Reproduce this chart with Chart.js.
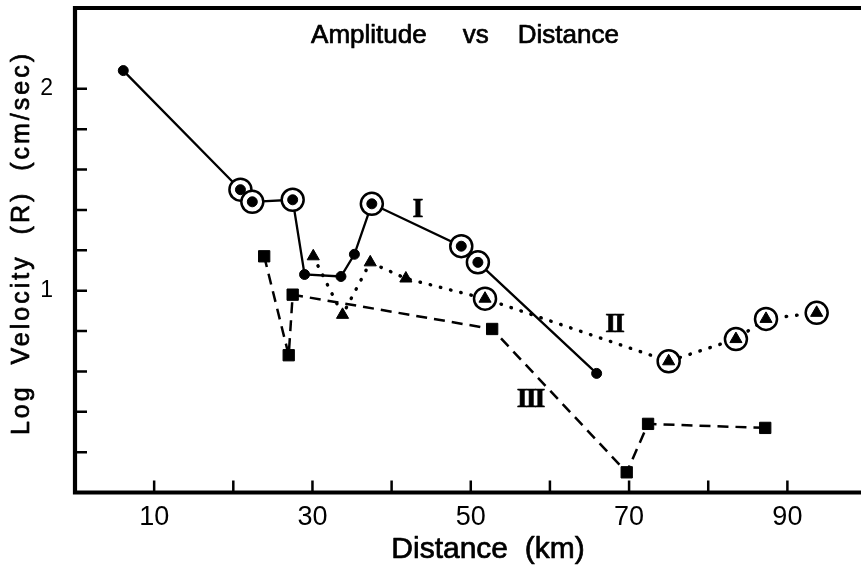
<!DOCTYPE html>
<html>
<head>
<meta charset="utf-8">
<script src="https://cdn.jsdelivr.net/npm/chart.js@4"></script>
<style>
  html, body { margin: 0; padding: 0; background: #fff; overflow: hidden; }
</style>
</head>
<body>
<canvas id="chart" width="861" height="565"></canvas>
<script>
// Curve I: solid line, filled circles (ring = circled station)
const distI = [6.1, 20.9, 22.4, 27.5, 29.0, 33.6, 35.3, 37.5, 48.8, 50.9, 65.9];
const velI = [2.09, 1.50, 1.44, 1.45, 1.08, 1.07, 1.18, 1.43, 1.22, 1.14, 0.59];
const ringI = [false, true, true, true, false, false, false, true, true, true, false];

// Curve II: dotted line, triangles
const distII = [30.1, 33.8, 37.3, 41.8, 51.8, 75.0, 83.5, 87.3, 93.7];
const velII = [1.17, 0.88, 1.14, 1.06, 0.96, 0.65, 0.76, 0.86, 0.89];
const ringII = [false, false, false, false, true, true, true, true, true];

// Curve III: dashed line, squares
const distIII = [23.9, 27.0, 27.5, 52.7, 69.7, 72.4, 87.2];
const velIII = [1.17, 0.68, 0.98, 0.81, 0.10, 0.34, 0.32];

// axes
const xTicks = [10, 20, 30, 40, 50, 60, 70, 80, 90];
const xTickLabels = [10, 30, 50, 70, 90];
const yTicks = [0.2, 0.4, 0.6, 0.8, 1.0, 1.2, 1.4, 1.6, 1.8, 2.0];
const yTickLabels = [1, 2];

// curve labels (data units)
const curveNames = ["I", "II", "III"];
const curveNameX = [43.2, 68.1, 57.5];
const curveNameY = [1.40, 0.83, 0.46];

const SANS = '"Liberation Sans", Arial, sans-serif';
const SERIF = '"Liberation Serif", "Times New Roman", serif';

function pts(xs, ys, keep) {
  return xs.map((x, i) => ({ x: x, y: ys[i] })).filter((p, i) => !keep || keep[i]);
}

function lineSet(xs, ys, dash, width, cap) {
  return {
    data: pts(xs, ys),
    borderColor: "#000",
    borderWidth: width,
    borderDash: dash,
    borderCapStyle: cap,
    pointRadius: 0,
    tension: 0,
    fill: false,
    clip: false,
    order: 3,
  };
}

function ringSet(xs, ys, keep) {
  return {
    data: pts(xs, ys, keep),
    showLine: false,
    pointStyle: "circle",
    pointRadius: 11,
    pointBackgroundColor: "#fff",
    pointBorderColor: "#000",
    pointBorderWidth: 2.5,
    clip: false,
    order: 2,
  };
}

function markSet(xs, ys, style, radius) {
  return {
    data: pts(xs, ys),
    showLine: false,
    pointStyle: style,
    pointRadius: radius,
    pointBackgroundColor: "#000",
    pointBorderColor: "#000",
    pointBorderWidth: 1,
    clip: false,
    order: 1,
  };
}

const near = (v, list) => list.some((t) => Math.abs(t - v) < 1e-6);

// filled text with a thin outline, closer to pen lettering
function letter(ctx, text, x, y, w) {
  ctx.fillText(text, x, y);
  ctx.lineWidth = w;
  ctx.strokeText(text, x, y);
}

// Frame, inward ticks and lettering
const framePlugin = {
  id: "frame",
  beforeDatasetsDraw(chart) {
    const { ctx, chartArea: a, scales } = chart;
    const x = scales.x;
    const y = scales.y;
    ctx.save();
    ctx.strokeStyle = "#000";
    ctx.fillStyle = "#000";

    ctx.lineWidth = 4.2;
    ctx.beginPath();
    ctx.moveTo(a.right, a.top);
    ctx.lineTo(a.left, a.top);
    ctx.lineTo(a.left, a.bottom);
    ctx.lineTo(a.right, a.bottom);
    ctx.stroke();

    ctx.lineWidth = 2.5;
    ctx.beginPath();
    xTicks.forEach((v) => {
      const px = x.getPixelForValue(v);
      ctx.moveTo(px, a.bottom);
      ctx.lineTo(px, a.bottom - 12);
    });
    yTicks.forEach((v) => {
      const py = y.getPixelForValue(v);
      ctx.moveTo(a.left, py);
      ctx.lineTo(a.left + 12, py);
    });
    ctx.stroke();

    ctx.lineJoin = "round";

    // title
    ctx.font = "26px " + SANS;
    ctx.textAlign = "center";
    ctx.textBaseline = "alphabetic";
    letter(ctx, "Amplitude     vs    Distance", (a.left + a.right) / 2 - 3, a.top + 35, 0.7);

    // x axis title
    ctx.font = "30px " + SANS;
    letter(ctx, "Distance  (km)", 488, 558, 0.7);

    // y axis title
    ctx.save();
    ctx.translate(22, 243);
    ctx.rotate(-Math.PI / 2);
    ctx.font = "25px " + SANS;
    ctx.letterSpacing = "3px";
    ctx.textBaseline = "middle";
    letter(ctx, "Log  Velocity  (R)  (cm/sec)", 0, 0, 0.7);
    ctx.restore();

    // curve names
    ctx.font = "bold 28px " + SERIF;
    ctx.letterSpacing = "-2px";
    ctx.textBaseline = "middle";
    curveNames.forEach((n, i) => {
      letter(ctx, n, x.getPixelForValue(curveNameX[i]), y.getPixelForValue(curveNameY[i]), 0.6);
    });
    ctx.restore();
  },
};

new Chart(document.getElementById("chart"), {
  type: "line",
  data: {
    datasets: [
      markSet(distI, velI, "circle", 5),
      markSet(distII, velII, "triangle", 7),
      markSet(distIII, velIII, "rect", 8),
      ringSet(distI, velI, ringI),
      ringSet(distII, velII, ringII),
      lineSet(distI, velI, [], 2.3, "butt"),
      lineSet(distII, velII, [0.5, 10], 3.4, "round"),
      lineSet(distIII, velIII, [11, 7], 2.5, "butt"),
    ],
  },
  options: {
    responsive: false,
    animation: false,
    events: [],
    layout: { autoPadding: false, padding: { top: 8, right: 0, bottom: 0, left: 0 } },
    plugins: {
      legend: { display: false },
      tooltip: { enabled: false },
    },
    scales: {
      x: {
        type: "linear",
        min: 0,
        max: 99.3,
        grid: { display: false, drawTicks: false },
        border: { display: false },
        afterBuildTicks: (s) => {
          s.ticks = xTicks.map((v) => ({ value: v }));
        },
        ticks: {
          padding: 9,
          color: "#000",
          maxRotation: 0,
          autoSkip: false,
          font: { family: SANS, size: 27 },
          callback: (v) => (near(v, xTickLabels) ? String(v) : ""),
        },
        afterFit: (s) => {
          s.height = 72.5;
          s.paddingLeft = 0;
          s.paddingRight = 0;
        },
      },
      y: {
        type: "linear",
        min: 0,
        max: 2.4,
        grid: { display: false, drawTicks: false },
        border: { display: false },
        afterBuildTicks: (s) => {
          s.ticks = yTicks.map((v) => ({ value: v }));
        },
        ticks: {
          padding: 22,
          color: "#000",
          autoSkip: false,
          font: { family: SANS, size: 23, lineHeight: 0.6 },
          callback: (v) => (near(v, yTickLabels) ? String(Math.round(v)) : ""),
        },
        afterFit: (s) => {
          s.width = 75;
          s.paddingTop = 0;
          s.paddingBottom = 0;
        },
      },
    },
  },
  plugins: [framePlugin],
});
</script>
</body>
</html>
